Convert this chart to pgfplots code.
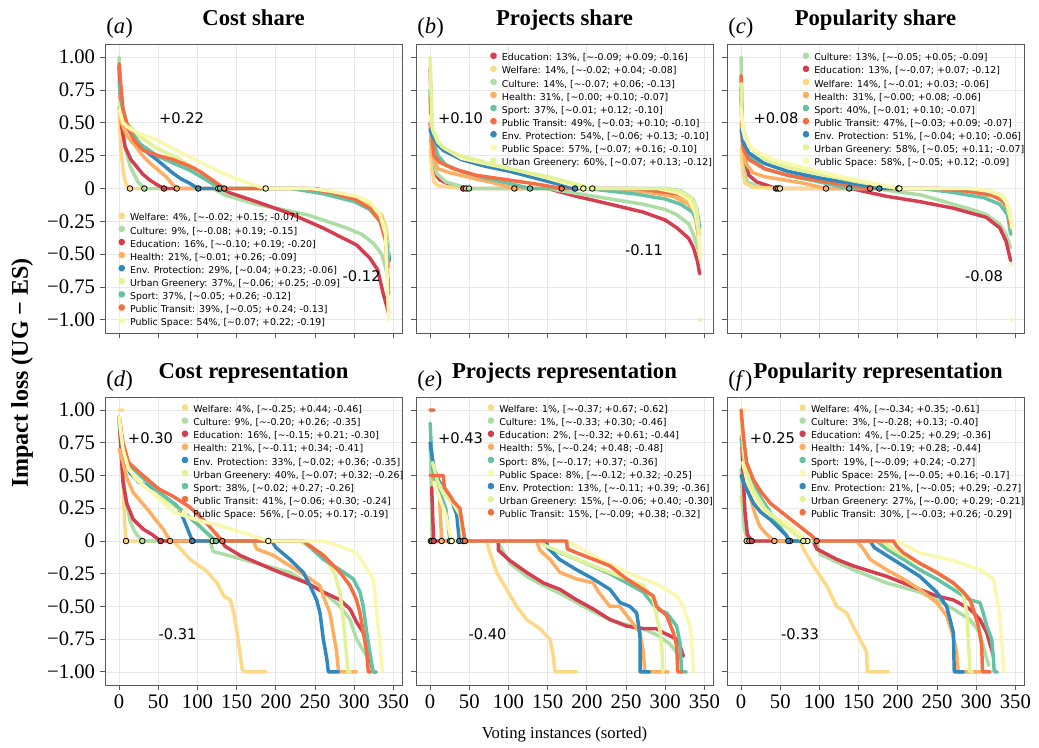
\documentclass[border=0pt]{standalone}
\usepackage{fontspec}
\setmainfont{Liberation Serif}
\newfontfamily\dejavu{DejaVu Sans}
\usepackage{pgfplots}
\pgfplotsset{compat=1.18}
\definecolor{cEd}{HTML}{D53E4F}
\definecolor{cPT}{HTML}{F46D43}
\definecolor{cHe}{HTML}{FDAE61}
\definecolor{cWe}{HTML}{FDD985}
\definecolor{cPS}{HTML}{FAF8AE}
\definecolor{cUG}{HTML}{E2F296}
\definecolor{cCu}{HTML}{ABDDA4}
\definecolor{cSp}{HTML}{66C2A5}
\definecolor{cEn}{HTML}{3288BD}
\newcommand\T{\textasciitilde}
\tikzset{
 ann/.style={font=\dejavu\fontsize{11}{13}\selectfont},
 lab/.style={font=\fontsize{17}{20}\selectfont, anchor=base west, yshift=8pt, xshift=-2.5pt},
}
\pgfplotsset{
 panel/.style={
  width=222.75pt, height=216.75pt, scale only axis, anchor=north west,
  xmin=-18, xmax=361, ymin=-1.1, ymax=1.1,
  xtick={0,50,100,150,200,250,300,350},
  ytick={-1,-0.75,-0.5,-0.25,0,0.25,0.5,0.75,1},
  xticklabels={}, yticklabels={},
  xtick pos=lower, ytick pos=left,
  grid=major, major grid style={draw=black!9, line width=0.6pt},
  axis line style={draw=black!65, line width=0.7pt},
  tick style={draw=black!65, line width=0.7pt},
  tick align=outside, major tick length=4pt,
  ticklabel style={font=\fontsize{15.5}{18}\selectfont},
  title style={font=\fontsize{17}{20}\selectfont\bfseries, at={(0.5,1)}, anchor=base, yshift=8pt},
  legend style={draw=none, fill=none, inner sep=0pt, outer sep=0pt, row sep=1.6pt, column sep=3.6pt,
    font=\dejavu\fontsize{7.05}{9}\selectfont, nodes={inner sep=0pt, text height=5.4pt, text depth=1.65pt}, anchor=north west},
  legend cell align=left,
  legend image code/.code={\fill[##1] (0pt,2pt) circle (1.4pt);},
 },
 ser/.style={line width=2.6pt, line cap=round, line join=round, unbounded coords=jump, mark=none},
 circ/.style={forget plot, only marks, scatter, scatter src=explicit symbolic, mark size=2.1pt,
  mark options={line width=0.6pt},
  scatter/classes={
   we={mark=*,draw=black,fill=cWe}, cu={mark=*,draw=black,fill=cCu}, ed={mark=*,draw=black,fill=cEd},
   he={mark=*,draw=black,fill=cHe}, en={mark=*,draw=black,fill=cEn}, ug={mark=*,draw=black,fill=cUG},
   sp={mark=*,draw=black,fill=cSp}, pt={mark=*,draw=black,fill=cPT}, ps={mark=*,draw=black,fill=cPS}}},
 iso/.style={forget plot, only marks, mark=*, mark size=1.4pt},
}
\begin{document}
\begin{tikzpicture}
\useasboundingbox (0,0) rectangle (779.25pt,-561pt);
% ---------------- (a)
\begin{axis}[panel, at={(78.75pt,-33pt)},
 yticklabels={−1.00,−0.75,−0.50,−0.25,0,0.25,0.50,0.75,1.00},
 title={Cost share},
 extra description/.code={\node[lab] at (0,1) {(\textit{a})};},
 legend style={at={(0.044,0.418)}}]
\addplot[ser,cWe] coordinates {(0,0.62)(1,0.45)(2,0.3)(4,0.2)(6,0.1)(9,0.03)(13.9,0)(240,0)(270,-0.03)(300,-0.08)(320,-0.13)(335,-0.2)(341,-0.3)(344,-0.45)};
\addlegendentry{Welfare: 4\%, [\T-0.02; +0.15; -0.07]}
\addplot[ser,cCu] coordinates {(0,1.0)(1,0.8)(3,0.65)(5,0.45)(7.5,0.32)(14,0.17)(24,0.05)(32.2,0)(120,0)(135,-0.05)(175,-0.12)(200,-0.15)(240,-0.2)(260,-0.24)(290,-0.3)(310,-0.35)(325,-0.42)(335,-0.5)(340,-0.6)(344,-0.72)};
\addlegendentry{Culture: 9\%, [\T-0.08; +0.19; -0.15]}
\addplot[ser,cEd] coordinates {(0,0.93)(2,0.6)(3.3,0.47)(7.5,0.32)(15,0.22)(22,0.17)(30,0.11)(39,0.065)(48,0.03)(57.3,0)(130,0)(140,-0.03)(175,-0.1)(218,-0.19)(260,-0.3)(303,-0.43)(320,-0.53)(330,-0.62)(337,-0.8)(344,-0.95)};
\addlegendentry{Education: 16\%, [\T-0.10; +0.19; -0.20]}
\addplot[ser,cHe] coordinates {(0,0.62)(3,0.5)(10,0.4)(20,0.33)(30,0.25)(40,0.19)(50,0.14)(60,0.09)(67,0.04)(73.5,0)(230,0)(260,-0.03)(300,-0.08)(320,-0.13)(335,-0.22)(341,-0.35)(344,-0.6)};
\addlegendentry{Health: 21\%, [\T0.01; +0.26; -0.09]}
\addplot[ser,cEn] coordinates {(0,0.6)(5,0.55)(15,0.42)(26,0.32)(37,0.27)(48,0.22)(60,0.16)(69,0.115)(80,0.07)(90,0.04)(101,0)(250,0)(280,-0.04)(310,-0.1)(324,-0.17)(337,-0.28)(342,-0.4)(345,-0.55)};
\addlegendentry{Env. Protection: 29\%, [\T0.04; +0.23; -0.06]}
\addplot[ser,cUG] coordinates {(0,0.66)(3,0.6)(10,0.5)(25,0.4)(50,0.3)(75,0.23)(100,0.14)(115,0.07)(126.6,0)(240,0)(280,-0.04)(310,-0.1)(330,-0.18)(340,-0.3)(344,-0.5)};
\addlegendentry{Urban Greenery: 37\%, [\T0.06; +0.25; -0.09]}
\addplot[ser,cSp] coordinates {(0,0.8)(3,0.65)(9.6,0.5)(17,0.42)(26.7,0.34)(48,0.25)(70,0.19)(90,0.14)(110,0.07)(128.8,0)(220,0)(260,-0.04)(300,-0.1)(320,-0.16)(333,-0.25)(340,-0.35)(344,-0.55)};
\addlegendentry{Sport: 37\%, [\T0.05; +0.26; -0.12]}
\addplot[ser,cPT] coordinates {(0,0.95)(2,0.8)(5,0.6)(12,0.45)(20,0.36)(31,0.29)(50,0.25)(69,0.22)(90,0.17)(103,0.13)(120,0.06)(134.2,0)(240,0)(270,-0.03)(300,-0.08)(320,-0.15)(333,-0.25)(340,-0.4)(344,-0.8)};
\addlegendentry{Public Transit: 39\%, [\T0.05; +0.24; -0.13]}
\addplot[ser,cPS] coordinates {(0,0.6)(5,0.5)(15,0.45)(30,0.41)(48,0.37)(70,0.3)(90,0.24)(110,0.18)(133,0.115)(160,0.05)(187,0)(245,0)(270,-0.02)(303,-0.06)(320,-0.1)(333,-0.2)(340,-0.35)(344,-1.0)};
\addlegendentry{Public Space: 54\%, [\T0.07; +0.22; -0.19]}
\addplot[circ] coordinates {(13.9,0)[we] (32.2,0)[cu] (57.3,0)[ed] (73.5,0)[he] (101,0)[en] (126.6,0)[ug] (128.8,0)[sp] (134.2,0)[pt] (187,0)[ps]};
\node[ann] at (axis cs:79.6,0.537) {+0.22};
\node[ann] at (axis cs:309.5,-0.666) {-0.12};
\end{axis}
% ---------------- (b)
\begin{axis}[panel, at={(312pt,-33pt)},
 title={Projects share},
 extra description/.code={\node[lab] at (0,1) {(\textit{b})};},
 legend style={at={(0.249,0.972)}}]
\addplot[ser,cEd] coordinates {(0,0.5)(2,0.3)(4,0.19)(8,0.1)(12.6,0.065)(25,0.03)(42.4,0)(150,0)(187,-0.06)(230,-0.12)(272,-0.18)(300,-0.24)(315,-0.3)(330,-0.38)(336,-0.45)(341,-0.55)(344,-0.65)};
\addlegendentry{Education: 13\%, [\T-0.09; +0.09; -0.16]}
\addplot[ser,cWe] coordinates {(0,0.3)(2,0.15)(5,0.05)(10,0.02)(46,0)(250,0)(290,-0.03)(320,-0.07)(335,-0.12)(343,-0.25)};
\addlegendentry{Welfare: 14\%, [\T-0.02; +0.04; -0.08]}
\addplot[ser,cCu] coordinates {(0,0.75)(1,0.6)(3,0.4)(5,0.2)(8.4,0.115)(20,0.05)(49.6,0)(150,0)(200,-0.05)(230,-0.08)(272,-0.12)(300,-0.16)(315,-0.2)(330,-0.27)(336,-0.35)(344,-0.5)};
\addlegendentry{Culture: 14\%, [\T-0.07; +0.06; -0.13]}
\addplot[ser,cHe] coordinates {(0,0.7)(1,0.4)(3,0.25)(10,0.15)(25,0.12)(40,0.1)(60,0.07)(80,0.045)(107.5,0)(240,0)(280,-0.03)(310,-0.06)(330,-0.12)(338,-0.2)(343,-0.4)};
\addlegendentry{Health: 31\%, [\T0.00; +0.10; -0.07]}
\addplot[ser,cSp] coordinates {(0,0.75)(2,0.5)(5,0.35)(10,0.25)(20,0.18)(40,0.13)(70,0.08)(100,0.04)(127.5,0)(200,0)(260,-0.04)(300,-0.08)(320,-0.12)(335,-0.18)(340,-0.25)(344,-0.35)};
\addlegendentry{Sport: 37\%, [\T0.01; +0.12; -0.10]}
\addplot[ser,cPT] coordinates {(0,0.92)(1,0.7)(3,0.35)(5,0.25)(12,0.2)(30,0.15)(59,0.1)(100,0.065)(140,0.03)(167.9,0)(260,0)(290,-0.02)(315,-0.04)(330,-0.08)(338,-0.14)(343,-0.3)};
\addlegendentry{Public Transit: 49\%, [\T0.03; +0.10; -0.10]}
\addplot[ser,cEn] coordinates {(0,0.45)(3,0.4)(10,0.33)(17,0.29)(40,0.22)(70,0.17)(102,0.13)(140,0.07)(184.9,0)(300,0)(320,-0.02)(335,-0.08)(340,-0.15)(344,-0.3)};
\addlegendentry{Env. Protection: 54\%, [\T0.06; +0.13; -0.10]}
\addplot[ser,cPS] coordinates {(0,0.55)(5,0.42)(15,0.32)(40,0.23)(70,0.19)(110,0.14)(150,0.08)(195.5,0)(290,0)(315,-0.03)(330,-0.08)(338,-0.18)(342,-0.3)(345,-0.55)};
\addlegendentry{Public Space: 57\%, [\T0.07; +0.16; -0.10]}
\addplot[ser,cUG] coordinates {(0,1.0)(1,0.75)(3,0.45)(10,0.35)(20,0.3)(38,0.25)(70,0.2)(102,0.15)(150,0.09)(207,0)(300,0)(320,-0.02)(335,-0.08)(340,-0.15)(344,-0.35)};
\addlegendentry{Urban Greenery: 60\%, [\T0.07; +0.13; -0.12]}
\addplot[iso,cUG] coordinates {(345,-1.0)};
\addplot[circ] coordinates {(42.4,0)[ed] (46,0)[we] (49.6,0)[cu] (107.5,0)[he] (127.5,0)[sp] (167.9,0)[pt] (184.9,0)[en] (195.5,0)[ps] (207,0)[ug]};
\node[ann] at (axis cs:38.8,0.537) {+0.10};
\node[ann] at (axis cs:273,-0.468) {-0.11};
\end{axis}
% ---------------- (c)
\begin{axis}[panel, at={(545.25pt,-33pt)},
 title={Popularity share},
 extra description/.code={\node[lab] at (0,1) {(\textit{c})};},
 legend style={at={(0.2535,0.972)}}]
\addplot[ser,cCu] coordinates {(0,1.0)(1,0.6)(2,0.3)(4,0.12)(8,0.05)(20,0.02)(47.5,0)(170,0)(230,-0.05)(271,-0.12)(300,-0.17)(313,-0.2)(330,-0.27)(338,-0.35)(344,-0.45)};
\addlegendentry{Culture: 13\%, [\T-0.05; +0.05; -0.09]}
\addplot[ser,cEd] coordinates {(0,0.78)(1,0.5)(2,0.3)(4,0.24)(10,0.1)(20,0.05)(30,0.03)(44.5,0)(140,0)(186,-0.06)(228,-0.1)(271,-0.15)(313,-0.22)(330,-0.3)(338,-0.4)(344,-0.55)};
\addlegendentry{Education: 13\%, [\T-0.07; +0.07; -0.12]}
\addplot[ser,cWe] coordinates {(0,0.3)(2,0.12)(5,0.04)(15,0.01)(49.6,0)(260,0)(300,-0.03)(330,-0.07)(340,-0.12)(344,-0.2)};
\addlegendentry{Welfare: 14\%, [\T-0.01; +0.03; -0.06]}
\addplot[ser,cHe] coordinates {(0,0.7)(2,0.35)(5,0.2)(15,0.12)(30,0.09)(60,0.06)(80,0.04)(108.3,0)(250,0)(300,-0.03)(330,-0.07)(340,-0.15)(344,-0.3)};
\addlegendentry{Health: 31\%, [\T0.00; +0.08; -0.06]}
\addplot[ser,cSp] coordinates {(0,0.5)(3,0.35)(10,0.25)(30,0.15)(60,0.1)(100,0.05)(138,0)(230,0)(270,-0.03)(310,-0.07)(330,-0.12)(340,-0.2)(344,-0.35)};
\addlegendentry{Sport: 40\%, [\T0.01; +0.10; -0.07]}
\addplot[ser,cPT] coordinates {(0,0.86)(1,0.45)(3,0.3)(10,0.22)(30,0.15)(60,0.1)(100,0.06)(130,0.03)(164.5,0)(250,0)(290,-0.02)(320,-0.05)(335,-0.1)(341,-0.17)(344,-0.3)};
\addlegendentry{Public Transit: 47\%, [\T0.03; +0.09; -0.07]}
\addplot[ser,cEn] coordinates {(0,0.45)(3,0.35)(10,0.27)(30,0.19)(60,0.13)(100,0.08)(140,0.04)(176.4,0)(290,0)(315,-0.02)(330,-0.05)(338,-0.1)(344,-0.25)};
\addlegendentry{Env. Protection: 51\%, [\T0.04; +0.10; -0.06]}
\addplot[ser,cUG] coordinates {(0,0.8)(1,0.55)(3,0.45)(10,0.32)(30,0.22)(60,0.16)(100,0.11)(150,0.05)(200.6,0)(290,0)(315,-0.02)(330,-0.05)(338,-0.1)(344,-0.25)};
\addlegendentry{Urban Greenery: 58\%, [\T0.05; +0.11; -0.07]}
\addplot[ser,cPS] coordinates {(0,0.61)(2,0.45)(5,0.38)(15,0.3)(40,0.22)(80,0.16)(120,0.1)(160,0.05)(202,0)(295,0)(320,-0.02)(335,-0.06)(340,-0.12)(344,-0.2)(345,-0.3)};
\addlegendentry{Public Space: 58\%, [\T0.05; +0.12; -0.09]}
\addplot[iso,cPS] coordinates {(345,-1.0)(345,-0.58)};
\addplot[circ] coordinates {(44.5,0)[ed] (47.5,0)[cu] (49.6,0)[we] (108.3,0)[he] (138,0)[sp] (164.5,0)[pt] (176.4,0)[en] (200.6,0)[ug] (202,0)[ps]};
\node[ann] at (axis cs:44.5,0.537) {+0.08};
\node[ann] at (axis cs:310,-0.666) {-0.08};
\end{axis}
% ---------------- (d)
\begin{axis}[panel, at={(78.75pt,-297.75pt)}, height=216pt,
 yticklabels={−1.00,−0.75,−0.50,−0.25,0,0.25,0.50,0.75,1.00},
 xticklabels={0,50,100,150,200,250,300,350},
 title={Cost representation},
 extra description/.code={\node[lab] at (0,1) {(\textit{d})};},
 legend style={at={(0.257,0.976)}}]
\addplot[ser,cWe] coordinates {(0,1)(5,1)(5,nan)(3,0.6)(5.4,0.39)(7,0.15)(8.8,0)(69,0)(80,-0.07)(90.5,-0.14)(111.7,-0.23)(125,-0.32)(133.5,-0.42)(142,-0.45)(146.3,-0.55)(150.5,-0.7)(154.8,-0.88)(157,-0.98)(160,-1)(188,-1)};
\addlegendentry{Welfare: 4\%, [\T-0.25; +0.44; -0.46]}
\addplot[ser,cCu] coordinates {(0,0.95)(2,0.75)(4,0.55)(8,0.35)(14,0.15)(20,0.07)(29.6,0)(116,0)(120,-0.08)(133,-0.1)(175.5,-0.17)(218,-0.24)(239,-0.32)(260.6,-0.39)(282,-0.5)(294.6,-0.6)(303,-0.75)(316,-0.88)(320,-0.95)};
\addlegendentry{Culture: 9\%, [\T-0.20; +0.26; -0.35]}
\addplot[ser,cEd] coordinates {(0,0.95)(2,0.73)(5,0.45)(9.6,0.29)(18,0.165)(30.9,0.09)(42,0.05)(53,0)(131,0)(135,-0.04)(154.3,-0.11)(196.8,-0.22)(239.4,-0.32)(260.6,-0.39)(282,-0.45)(294.6,-0.52)(303,-0.62)(311.6,-0.7)(318,-0.83)(322.3,-0.95)(324,-1)(328,-1)};
\addlegendentry{Education: 16\%, [\T-0.15; +0.21; -0.30]}
\addplot[ser,cHe] coordinates {(0,0.7)(5,0.6)(10,0.48)(18,0.37)(28,0.3)(39.4,0.22)(48,0.15)(56.4,0.09)(65,0)(171.3,0)(175.5,-0.06)(197,-0.11)(218,-0.19)(239,-0.27)(256,-0.34)(260.6,-0.42)(269,-0.55)(273.4,-0.7)(277.6,-0.85)(280,-1)(303,-1)};
\addlegendentry{Health: 21\%, [\T-0.11; +0.34; -0.41]}
\addplot[ser,cEn] coordinates {(0,0.95)(5,0.7)(10,0.58)(14,0.52)(25,0.45)(48,0.39)(60,0.33)(73.5,0.27)(80,0.2)(86.2,0.11)(93.4,0)(194.7,0)(200,-0.05)(218,-0.14)(235,-0.24)(243.6,-0.34)(252,-0.45)(256.4,-0.55)(260.6,-0.75)(265,-0.9)(267,-1)(280,-1)};
\addlegendentry{Env. Protection: 33\%, [\T0.02; +0.36; -0.35]}
\addplot[ser,cUG] coordinates {(0,0.95)(4,0.75)(10,0.6)(20,0.48)(40,0.38)(70,0.27)(100,0.14)(119.4,0)(230,0)(260,-0.1)(275,-0.25)(282,-0.4)(286,-0.6)(290,-0.85)(292,-1)(295,-1)};
\addlegendentry{Urban Greenery: 40\%, [\T0.07; +0.32; -0.26]}
\addplot[ser,cSp] coordinates {(0,0.9)(5,0.7)(10,0.6)(26.7,0.5)(45,0.4)(69.2,0.29)(90,0.18)(103.2,0.11)(123.6,0)(235,0)(260.6,-0.14)(282,-0.22)(298.9,-0.29)(307.4,-0.39)(311.6,-0.5)(316,-0.7)(320,-0.85)(324,-1)(328,-1)};
\addlegendentry{Sport: 38\%, [\T0.02; +0.27; -0.26]}
\addplot[ser,cPT] coordinates {(0,0.95)(5,0.75)(12,0.6)(26.7,0.52)(50,0.4)(69.2,0.34)(90,0.26)(111,0.14)(131.7,0)(235,0)(260.6,-0.11)(282,-0.24)(294.6,-0.34)(303,-0.45)(307.4,-0.55)(311.6,-0.7)(316,-0.85)(318,-1)(321,-1)};
\addlegendentry{Public Transit: 41\%, [\T0.06; +0.30; -0.24]}
\addplot[ser,cPS] coordinates {(0,0.95)(5,0.7)(12,0.55)(26.7,0.45)(50,0.33)(69.2,0.22)(100,0.16)(133,0.11)(160,0.06)(190.4,0)(260.6,0)(282,-0.04)(303,-0.09)(311.6,-0.17)(324.4,-0.29)(328.7,-0.55)(333,-0.8)(336,-1)};
\addlegendentry{Public Space: 56\%, [\T0.05; +0.17; -0.19]}
\addplot[circ] coordinates {(8.8,0)[we] (29.6,0)[cu] (53,0)[ed] (65,0)[he] (93.4,0)[en] (119.4,0)[ug] (123.6,0)[sp] (131.7,0)[pt] (190.4,0)[ps]};
\node[ann] at (axis cs:40,0.787) {+0.30};
\node[ann] at (axis cs:74.5,-0.71) {-0.31};
\end{axis}
% ---------------- (e)
\begin{axis}[panel, at={(312pt,-297.75pt)}, height=216pt,
 xticklabels={0,50,100,150,200,250,300,350},
 title={Projects representation},
 extra description/.code={\node[lab] at (0,1) {(\textit{e})};},
 legend style={at={(0.240,0.976)}}]
\addplot[ser,cWe] coordinates {(0,1)(2,1)(2,nan)(1,0)(72,0)(76.4,-0.09)(85,-0.24)(97.7,-0.37)(110.4,-0.5)(123.2,-0.6)(140,-0.67)(153,-0.75)(157.2,-0.88)(159.4,-1)(187,-1)};
\addlegendentry{Welfare: 1\%, [\T-0.37; +0.67; -0.62]}
\addplot[ser,cCu] coordinates {(0,0.72)(1.5,0.41)(2.5,0)(85,0)(101.9,-0.17)(123.2,-0.27)(144.5,-0.34)(165.7,-0.4)(187,-0.47)(208.3,-0.54)(229.5,-0.6)(250.8,-0.64)(272,-0.67)(290,-0.72)(305,-0.78)(316,-0.86)};
\addlegendentry{Culture: 1\%, [\T-0.33; +0.30; -0.46]}
\addplot[ser,cEd] coordinates {(0,1)(2,1)(2,nan)(2,0.41)(4.5,0)(87,0)(87,-0.07)(101.9,-0.15)(123.2,-0.24)(144.5,-0.32)(165.7,-0.37)(187,-0.45)(208.3,-0.52)(229.5,-0.6)(250.8,-0.65)(272,-0.67)(289,-0.67)(297.6,-0.7)(314.6,-0.75)(318.9,-0.8)(323.1,-0.88)};
\addlegendentry{Education: 2\%, [\T-0.32; +0.61; -0.44]}
\addplot[ser,cHe] coordinates {(0,1)(3,1)(3,nan)(3,0.5)(8,0.41)(12,0.33)(14.7,0)(136,0)(140,-0.07)(153,-0.14)(165.7,-0.24)(187,-0.29)(208.3,-0.32)(215,-0.39)(229.5,-0.5)(242,-0.5)(255,-0.6)(267.8,-0.7)(272,-0.85)(274,-1)(304,-1)};
\addlegendentry{Health: 5\%, [\T-0.24; +0.48; -0.48]}
\addplot[ser,cSp] coordinates {(0,0.9)(3,0.55)(8,0.41)(15,0.33)(20,0.25)(25.4,0)(144.5,0)(150,-0.05)(187,-0.14)(229.5,-0.25)(250.8,-0.32)(272,-0.39)(289,-0.52)(301.9,-0.55)(314.6,-0.65)(318.9,-0.78)(321,-1)(327,-1)};
\addlegendentry{Sport: 8\%, [\T-0.17; +0.37; -0.36]}
\addplot[ser,cPS] coordinates {(0,1)(4,1)(4,nan)(5,0.45)(12,0.33)(20,0.2)(27.5,0)(174,0)(190,-0.05)(208,-0.11)(250.8,-0.24)(293,-0.34)(314.6,-0.42)(323,-0.5)(331.6,-0.65)(334,-0.8)(336,-1)};
\addlegendentry{Public Space: 8\%, [\T-0.12; +0.32; -0.25]}
\addplot[ser,cEn] coordinates {(0,0.75)(5,0.55)(12,0.45)(20,0.38)(28,0.3)(34,0.2)(37.3,0)(148.7,0)(150,-0.05)(165,-0.14)(187,-0.22)(208.3,-0.29)(229.5,-0.37)(242.3,-0.47)(255,-0.5)(263.6,-0.55)(267.8,-0.72)(268,-1)(280,-1)};
\addlegendentry{Env. Protection: 13\%, [\T-0.11; +0.39; -0.36]}
\addplot[ser,cUG] coordinates {(0,1)(3,1)(3,nan)(3,0.6)(10,0.45)(20,0.35)(30,0.28)(38,0.2)(42.4,0)(140,0)(145,-0.03)(187,-0.14)(229.5,-0.24)(272,-0.34)(285,-0.45)(290,-0.6)(294,-0.7)(296,-0.85)(297,-1)};
\addlegendentry{Urban Greenery: 15\%, [\T-0.06; +0.40; -0.30]}
\addplot[ser,cPT] coordinates {(0,1)(5,1)(5,nan)(0,0.5)(17,0.5)(18,0.41)(25,0.35)(30,0.3)(38,0.25)(44.5,0)(174.3,0)(175,-0.06)(187,-0.09)(208.3,-0.14)(229.5,-0.19)(250.8,-0.29)(272,-0.37)(284.8,-0.42)(289,-0.5)(301.9,-0.57)(310.4,-0.7)(314.6,-0.8)(316,-1)(321,-1)};
\addlegendentry{Public Transit: 15\%, [\T-0.09; +0.38; -0.32]}
\addplot[circ] coordinates {(1,0)[we] (2.5,0)[cu] (4.5,0)[ed] (14.7,0)[he] (25.4,0)[sp] (27.5,0)[ps] (37.3,0)[en] (42.4,0)[ug] (44.5,0)[pt]};
\node[ann] at (axis cs:38.8,0.787) {+0.43};
\node[ann] at (axis cs:73.2,-0.71) {-0.40};
\end{axis}
% ---------------- (f)
\begin{axis}[panel, at={(545.25pt,-297.75pt)}, height=216pt,
 xticklabels={0,50,100,150,200,250,300,350},
 title={Popularity representation},
 title style={xshift=2pt},
 extra description/.code={\node[lab] at (0,1) {(\textit{f})};},
 legend style={at={(0.2424,0.976)}}]
\addplot[ser,cWe] coordinates {(0,1)(5,1)(5,nan)(0,0.34)(7.1,0)(75,0)(79.4,-0.06)(92,-0.19)(109,-0.34)(122,-0.5)(134.7,-0.55)(143,-0.65)(151.7,-0.75)(160.2,-0.85)(161,-1)(188,-1)};
\addlegendentry{Welfare: 4\%, [\T-0.34; +0.35; -0.61]}
\addplot[ser,cCu] coordinates {(0,0.55)(2,0.3)(4,0.09)(10.5,0)(96.4,0)(100.7,-0.1)(143,-0.22)(185.7,-0.32)(228,-0.39)(249.5,-0.45)(270.8,-0.52)(292,-0.6)(304.8,-0.7)(309,-0.8)(313.4,-0.9)(316,-0.95)};
\addlegendentry{Culture: 3\%, [\T-0.28; +0.13; -0.40]}
\addplot[ser,cEd] coordinates {(1,0.72)(3,0.45)(5,0.22)(8,0.05)(13.5,0)(92,0)(96.4,-0.06)(122,-0.14)(143,-0.19)(185.7,-0.27)(228,-0.37)(249.5,-0.42)(270.8,-0.45)(292,-0.52)(304.8,-0.6)(313.4,-0.7)(319.7,-0.83)(322,-0.88)};
\addlegendentry{Education: 4\%, [\T-0.25; +0.29; -0.36]}
\addplot[ser,cHe] coordinates {(0,0.8)(5,0.55)(11.4,0.34)(18,0.2)(24,0.11)(33,0.05)(42.4,0)(147.5,0)(156,-0.06)(164.5,-0.14)(185.7,-0.22)(207,-0.29)(228,-0.37)(249.5,-0.47)(262.3,-0.57)(270.8,-0.73)(275,-0.85)(277,-1)(305,-1)};
\addlegendentry{Health: 14\%, [\T-0.19; +0.28; -0.44]}
\addplot[ser,cSp] coordinates {(0,0.78)(5,0.6)(15.6,0.45)(25,0.33)(37,0.22)(48,0.12)(58,0.04)(62.4,0)(173,0)(185.7,-0.06)(207,-0.14)(228,-0.22)(249.5,-0.29)(270.8,-0.37)(292,-0.45)(304.8,-0.47)(309,-0.55)(313.4,-0.65)(319.7,-0.75)(322,-0.9)(323,-1)(327,-1)};
\addlegendentry{Sport: 19\%, [\T-0.09; +0.24; -0.27]}
\addplot[ser,cPS] coordinates {(0,1)(5,1)(5,nan)(2,0.6)(8,0.45)(15.6,0.34)(30,0.22)(58,0.14)(70,0.08)(84.5,0)(198.5,0)(228,-0.09)(270.8,-0.15)(304.8,-0.22)(322,-0.29)(326,-0.42)(330.4,-0.6)(333,-0.8)(335,-1)};
\addlegendentry{Public Space: 25\%, [\T-0.05; +0.16; -0.17]}
\addplot[ser,cEn] coordinates {(0,0.5)(5,0.42)(15.6,0.29)(25,0.22)(37,0.165)(48,0.1)(58,0.04)(60.3,0)(164.5,0)(170,-0.05)(185.7,-0.11)(207,-0.19)(228,-0.27)(249.5,-0.39)(262.3,-0.5)(266.6,-0.6)(270.8,-0.7)(272,-1)(284,-1)};
\addlegendentry{Env. Protection: 21\%, [\T-0.05; +0.29; -0.27]}
\addplot[ser,cUG] coordinates {(0,0.95)(4,0.65)(10,0.47)(15.6,0.39)(30,0.25)(50,0.14)(65,0.07)(79.4,0)(180,0)(190,-0.05)(207,-0.11)(249.5,-0.24)(270.8,-0.32)(283.6,-0.4)(288,-0.55)(290,-0.75)(292,-1)(295,-1)};
\addlegendentry{Urban Greenery: 27\%, [\T-0.00; +0.29; -0.21]}
\addplot[ser,cPT] coordinates {(0,1)(3,0.8)(7,0.6)(15.6,0.47)(25,0.38)(37,0.29)(58,0.19)(79.4,0.09)(90,0.04)(96.4,0)(194.3,0)(198.5,-0.04)(207,-0.09)(228,-0.17)(249.5,-0.24)(270.8,-0.32)(283.6,-0.39)(292,-0.45)(296.3,-0.52)(302.7,-0.65)(307,-0.8)(308,-1)(318,-1)};
\addlegendentry{Public Transit: 30\%, [\T-0.03; +0.26; -0.29]}
\addplot[circ] coordinates {(7.1,0)[we] (10.5,0)[cu] (13.5,0)[ed] (42.4,0)[he] (62.4,0)[sp] (60.3,0)[en] (84.5,0)[ps] (79.4,0)[ug] (96.4,0)[pt]};
\node[ann] at (axis cs:40,0.787) {+0.25};
\node[ann] at (axis cs:75.2,-0.71) {-0.33};
\end{axis}
% labels
\node[rotate=90, anchor=center, font=\fontsize{18}{21}\selectfont\bfseries] at (16.5pt,-279.75pt) {Impact loss (UG − ES)};
\node[anchor=base, font=\fontsize{12.5}{15}\selectfont] at (423.4pt,-553.5pt) {Voting instances (sorted)};
\end{tikzpicture}
\end{document}
